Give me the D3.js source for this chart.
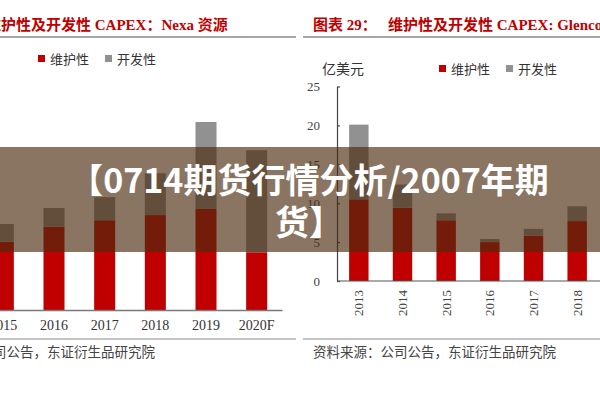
<!DOCTYPE html>
<html>
<head>
<meta charset="utf-8">
<script src="https://cdn.jsdelivr.net/npm/d3@7"></script>
<style>
  body { margin: 0; background: #fff; }
  svg { display: block; }
</style>
</head>
<body>
<div id="container"></div>
<script>
/* CONSTANTS AND GLOBALS */
const width = 600,
  height = 400;
const red = "#c00000",
  gray = "#919191",
  serif = "'Liberation Serif', 'Noto Sans CJK SC', serif";

/* DATA */
// left panel: Nexa (亿美元), axis cropped off
const nexaYears = ["2015", "2016", "2017", "2018", "2019", "2020F"];
const nexaMaint = [1.45, 1.77, 1.91, 2.02, 2.15, 1.23];
const nexaDev = [0.38, 0.40, 0.49, 0.89, 1.85, 2.17];
// right panel: Glencore
const glenYears = ["2013", "2014", "2015", "2016", "2017", "2018"];
const glenMaint = [10.5, 9.4, 7.8, 5.0, 5.8, 7.7];
const glenDev = [9.6, 3.0, 0.9, 0.4, 0.9, 1.9];
const glenTicks = [0, 5, 10, 15, 20, 25];

const legendNames = ["维护性", "开发性"];

const svg = d3.select("#container")
  .append("svg")
  .attr("width", width)
  .attr("height", height);

svg.append("rect")
  .attr("width", width)
  .attr("height", height)
  .attr("fill", "#fff");

/* LEFT PANEL */
const xLeft = d3.scaleBand()
  .domain(nexaYears)
  .range([-22, 282])
  .paddingInner(0.585)
  .paddingOuter(0.2925);

const yLeft = d3.scaleLinear()
  .domain([0, 5])
  .range([310, 75]);

// titles (left one is cut at the edge, first char off canvas)
svg.append("text")
  .attr("x", -14).attr("y", 30)
  .attr("fill", red)
  .attr("font-family", serif)
  .attr("font-weight", "bold")
  .attr("font-size", 15)
  .text("维护性及开发性 CAPEX：Nexa 资源");

svg.append("text")
  .attr("x", 313).attr("y", 30)
  .attr("fill", red)
  .attr("font-family", serif)
  .attr("font-weight", "bold")
  .attr("font-size", 15)
  .text("图表 29：");

svg.append("text")
  .attr("x", 388).attr("y", 30)
  .attr("fill", red)
  .attr("font-family", serif)
  .attr("font-weight", "bold")
  .attr("font-size", 15)
  .text("维护性及开发性 CAPEX: Glencore");

// rules under titles and above sources
[[0, 296], [303, 600]].forEach(([a, b]) => {
  svg.append("line").attr("x1", a).attr("x2", b).attr("y1", 37).attr("y2", 37)
    .attr("stroke", "#8a8a8a").attr("stroke-width", 1.5);
  svg.append("line").attr("x1", a).attr("x2", b).attr("y1", 339).attr("y2", 339)
    .attr("stroke", "#8a8a8a").attr("stroke-width", 1.2);
});

// legends
function legend(x, y) {
  const g = svg.append("g").attr("transform", `translate(${x}, ${y})`);
  [red, gray].forEach((c, i) => {
    g.append("rect")
      .attr("x", i * 67).attr("y", -4)
      .attr("width", 7).attr("height", 7)
      .attr("fill", c);
    g.append("text")
      .attr("x", i * 67 + 12).attr("y", 4.5)
      .attr("fill", "#333")
      .attr("font-family", serif)
      .attr("font-size", 13)
      .text(legendNames[i]);
  });
}
legend(38, 59);
legend(439, 69);

// left bars
const gL = svg.append("g");
gL.selectAll("rect.maint")
  .data(nexaYears)
  .join("rect")
  .attr("class", "maint")
  .attr("x", d => xLeft(d))
  .attr("width", xLeft.bandwidth())
  .attr("y", (d, i) => yLeft(nexaMaint[i]))
  .attr("height", (d, i) => yLeft(0) - yLeft(nexaMaint[i]))
  .attr("fill", red);
gL.selectAll("rect.dev")
  .data(nexaYears)
  .join("rect")
  .attr("class", "dev")
  .attr("x", d => xLeft(d))
  .attr("width", xLeft.bandwidth())
  .attr("y", (d, i) => yLeft(nexaMaint[i] + nexaDev[i]))
  .attr("height", (d, i) => yLeft(nexaMaint[i]) - yLeft(nexaMaint[i] + nexaDev[i]))
  .attr("fill", gray);

const xAxisL = svg.append("g")
  .attr("transform", `translate(0, ${yLeft(0)})`)
  .call(d3.axisBottom(xLeft).tickSize(0).tickPadding(10));
xAxisL.select(".domain").attr("stroke", "#7a7a7a").attr("stroke-width", 1.5);
xAxisL.selectAll("text")
  .attr("font-family", serif)
  .attr("font-size", 14)
  .attr("fill", "#333");

/* RIGHT PANEL */
const xRight = d3.scaleBand()
  .domain(glenYears)
  .range([337, 599])
  .paddingInner(0.555)
  .paddingOuter(0.2775);

const yRight = d3.scaleLinear()
  .domain([0, 25])
  .range([281, 86.5]);

const gR = svg.append("g");
gR.selectAll("rect.maint")
  .data(glenYears)
  .join("rect")
  .attr("class", "maint")
  .attr("x", d => xRight(d))
  .attr("width", xRight.bandwidth())
  .attr("y", (d, i) => yRight(glenMaint[i]))
  .attr("height", (d, i) => yRight(0) - yRight(glenMaint[i]))
  .attr("fill", red);
gR.selectAll("rect.dev")
  .data(glenYears)
  .join("rect")
  .attr("class", "dev")
  .attr("x", d => xRight(d))
  .attr("width", xRight.bandwidth())
  .attr("y", (d, i) => yRight(glenMaint[i] + glenDev[i]))
  .attr("height", (d, i) => yRight(glenMaint[i]) - yRight(glenMaint[i] + glenDev[i]))
  .attr("fill", gray);

const yAxisR = svg.append("g")
  .attr("transform", `translate(337, 0)`)
  .call(d3.axisLeft(yRight).tickValues(glenTicks).tickSize(-3).tickSizeOuter(0).tickPadding(17));
yAxisR.select(".domain").attr("stroke", "#444").attr("stroke-width", 1.2);
yAxisR.selectAll(".tick line").attr("stroke", "#444").attr("stroke-width", 1.2);
yAxisR.selectAll("text")
  .attr("font-family", serif)
  .attr("font-size", 13)
  .attr("fill", "#444");

const xAxisR = svg.append("g")
  .attr("transform", `translate(0, ${yRight(0)})`)
  .call(d3.axisBottom(xRight).tickSize(0).tickSizeOuter(0));
xAxisR.select(".domain").attr("stroke", "#555").attr("stroke-width", 1.2)
  .attr("d", "M337,0H600");
xAxisR.selectAll("text")
  .attr("font-family", serif)
  .attr("font-size", 13)
  .attr("fill", "#444")
  .attr("text-anchor", "end")
  .attr("dy", "0.35em")
  .attr("transform", "translate(0, 9) rotate(-90)")
  .attr("y", 0)
  .attr("x", 0);

svg.append("text")
  .attr("x", 322).attr("y", 74)
  .attr("fill", "#333")
  .attr("font-family", serif)
  .attr("font-size", 14)
  .text("亿美元");

// sources
svg.append("text")
  .attr("x", 155).attr("y", 357)
  .attr("text-anchor", "end")
  .attr("fill", "#444")
  .attr("font-family", serif)
  .attr("font-size", 13.5)
  .text("资料来源：公司公告，东证衍生品研究院");
svg.append("text")
  .attr("x", 313).attr("y", 357)
  .attr("fill", "#444")
  .attr("font-family", serif)
  .attr("font-size", 13.5)
  .text("资料来源：公司公告，东证衍生品研究院");

/* BANNER */
svg.append("rect")
  .attr("x", 0).attr("y", 147)
  .attr("width", width).attr("height", 105)
  .attr("fill", "rgb(76, 43, 15)")
  .attr("fill-opacity", 0.65);

const banner = ["【0714期货行情分析/2007年期", "货】"];
svg.selectAll("text.banner")
  .data(banner)
  .join("text")
  .attr("class", "banner")
  .attr("x", 309)
  .attr("y", (d, i) => 193 + i * 42)
  .attr("text-anchor", "middle")
  .attr("fill", "#fff")
  .attr("font-family", "'Noto Sans CJK SC', sans-serif")
  .attr("font-weight", "bold")
  .attr("font-size", 34)
  .text(d => d);
</script>
</body>
</html>
